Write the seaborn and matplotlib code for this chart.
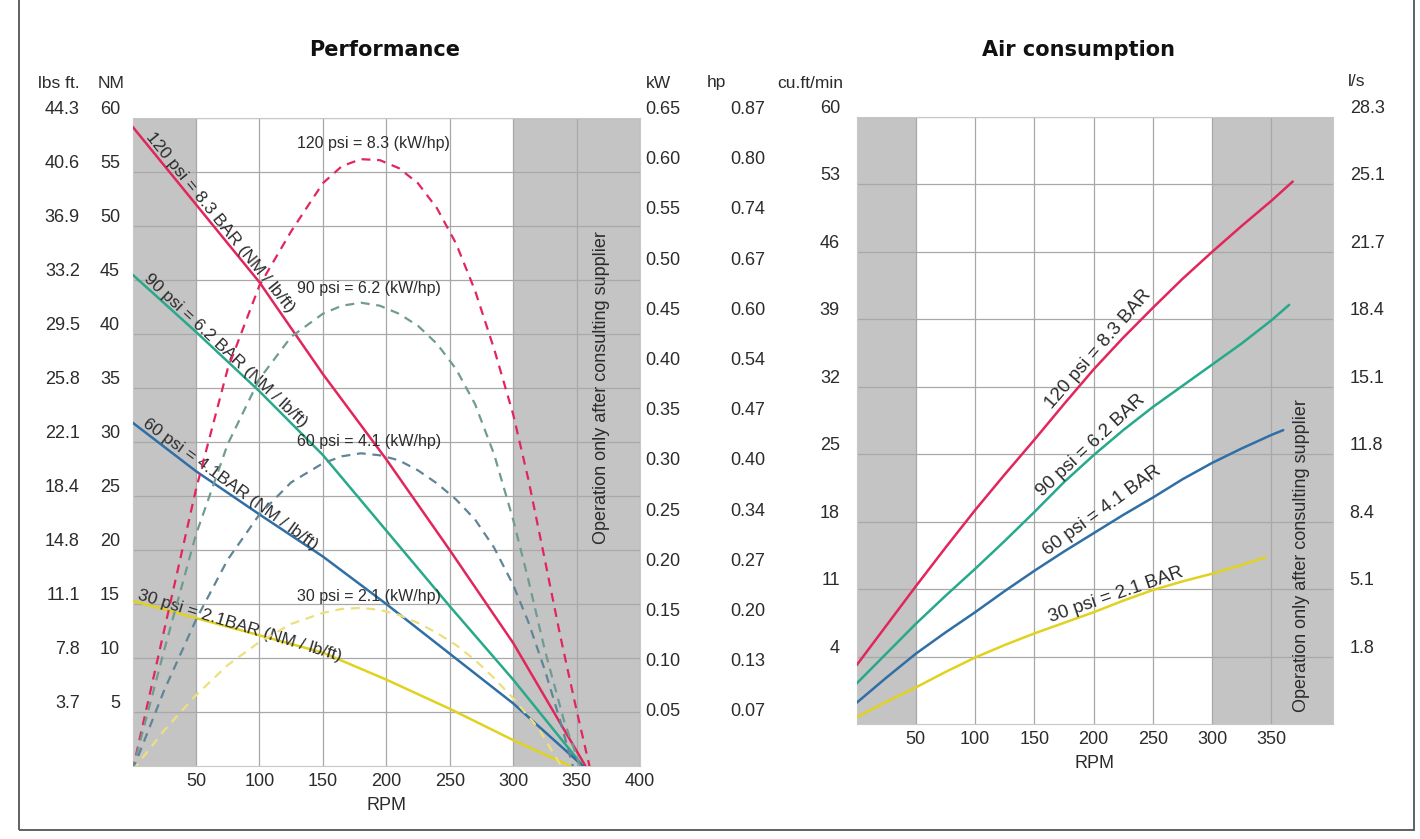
import numpy as np
import pandas as pd
import seaborn as sns
import matplotlib.pyplot as plt
from matplotlib.patches import Rectangle

sns.set_style("white")
plt.rcParams['font.family'] = ['Liberation Sans', 'DejaVu Sans']

# ---- Performance: torque (NM) against RPM, solid lines ----
tq_rpm_120 = [0, 50, 100, 150, 200, 250, 300, 357]
tq_120 = [59.2, 52.0, 44.8, 36.3, 28.4, 20.0, 11.4, 0.0]
tq_rpm_90 = [0, 50, 100, 150, 200, 250, 300, 355]
tq_90 = [45.5, 40.2, 34.7, 28.8, 21.8, 14.8, 8.0, 0.0]
tq_rpm_60 = [0, 50, 100, 150, 200, 250, 300, 355]
tq_60 = [31.8, 27.3, 23.3, 19.4, 15.0, 10.4, 5.8, 0.0]
tq_rpm_30 = [0, 50, 100, 150, 200, 250, 300, 345]
tq_30 = [15.3, 13.7, 12.1, 10.5, 8.0, 5.3, 2.4, 0.0]

# ---- Performance: power (kW) against RPM, dashed lines ----
pw_rpm_120 = [0, 25, 50, 75, 100, 125, 150, 165, 180, 195, 210, 225, 240, 255, 270, 285, 300, 312, 325, 337, 350, 361]
pw_120 = [0, 0.14, 0.28, 0.40, 0.483, 0.537, 0.585, 0.602, 0.609, 0.608, 0.600, 0.585, 0.560, 0.525, 0.478, 0.420, 0.355, 0.290, 0.210, 0.135, 0.060, 0]
pw_rpm_90 = [0, 25, 50, 75, 100, 125, 150, 165, 180, 195, 210, 225, 240, 255, 270, 285, 300, 312, 325, 340, 354]
pw_90 = [0, 0.12, 0.235, 0.325, 0.39, 0.432, 0.455, 0.463, 0.466, 0.463, 0.455, 0.443, 0.425, 0.40, 0.365, 0.315, 0.25, 0.19, 0.12, 0.05, 0]
pw_rpm_60 = [0, 25, 50, 75, 100, 125, 150, 165, 180, 195, 210, 225, 240, 255, 270, 285, 300, 312, 325, 337, 348]
pw_60 = [0, 0.08, 0.15, 0.21, 0.255, 0.287, 0.306, 0.313, 0.316, 0.314, 0.309, 0.299, 0.286, 0.27, 0.25, 0.222, 0.185, 0.148, 0.10, 0.05, 0]
pw_rpm_30 = [0, 25, 50, 75, 100, 125, 150, 165, 180, 195, 210, 225, 240, 255, 270, 285, 300, 320, 340]
pw_30 = [0, 0.04, 0.075, 0.105, 0.128, 0.146, 0.157, 0.161, 0.162, 0.16, 0.155, 0.147, 0.137, 0.125, 0.11, 0.092, 0.072, 0.042, 0]

# ---- Air consumption (cu.ft/min) against RPM ----
air_rpm_120 = [0, 25, 50, 75, 100, 125, 150, 175, 200, 225, 250, 275, 300, 325, 350, 368]
air_120 = [3.1, 7.2, 11.3, 15.3, 19.2, 22.9, 26.5, 30.2, 33.8, 37.1, 40.2, 43.2, 46.0, 48.7, 51.3, 53.3]
air_rpm_90 = [0, 25, 50, 75, 100, 125, 150, 175, 200, 225, 250, 275, 300, 325, 350, 365]
air_90 = [1.2, 4.3, 7.4, 10.3, 13.1, 16.0, 19.0, 22.1, 24.9, 27.5, 29.9, 32.1, 34.3, 36.5, 38.9, 40.5]
air_rpm_60 = [0, 25, 50, 75, 100, 125, 150, 175, 200, 225, 250, 275, 300, 325, 350, 360]
air_60 = [-0.8, 1.8, 4.3, 6.5, 8.6, 10.8, 12.9, 14.9, 16.8, 18.7, 20.5, 22.4, 24.1, 25.6, 27.0, 27.5]
air_rpm_30 = [0, 25, 50, 75, 100, 125, 150, 175, 200, 225, 250, 275, 300, 325, 345]
air_30 = [-2.3, -0.7, 0.8, 2.4, 3.9, 5.2, 6.4, 7.5, 8.6, 9.8, 10.9, 11.8, 12.6, 13.5, 14.3]

# ---- tick labels ----
nm_ticks = [5, 10, 15, 20, 25, 30, 35, 40, 45, 50, 55, 60]
lbs_labels = ['3.7', '7.8', '11.1', '14.8', '18.4', '22.1', '25.8', '29.5', '33.2', '36.9', '40.6', '44.3']
kw_ticks = [0.05, 0.10, 0.15, 0.20, 0.25, 0.30, 0.35, 0.40, 0.45, 0.50, 0.55, 0.60, 0.65]
hp_labels = ['0.07', '0.13', '0.20', '0.27', '0.34', '0.40', '0.47', '0.54', '0.60', '0.67', '0.74', '0.80', '0.87']
cfm_ticks = [4, 11, 18, 25, 32, 39, 46, 53, 60]
ls_labels = ['1.8', '5.1', '8.4', '11.8', '15.1', '18.4', '21.7', '25.1', '28.3']
rpm_ticks_perf = [50, 100, 150, 200, 250, 300, 350, 400]
rpm_ticks_air = [50, 100, 150, 200, 250, 300, 350]

c120, c90, c60, c30 = '#e2265c', '#27a98a', '#2f6fa6', '#e0d21e'
d120, d90, d60, d30 = '#e2265c', '#6f9c92', '#5f8596', '#ebe07c'
band = '#c4c4c4'
gridc = '#a8a8a8'
txt = '#2b2b2b'

W, H = 1420, 839
fig = plt.figure(figsize=(W / 100, H / 100), dpi=100)
fig.patch.set_facecolor('white')


def fx(px):
    return px / W


def fy(py):
    return 1 - py / H


ax = fig.add_axes([fx(132.5), fy(766), fx(640) - fx(132.5), fy(118) - fy(766)])
ax2 = fig.add_axes([fx(856.6), fy(724), fx(1333) - fx(856.6), fy(117) - fy(724)])

TICK = 13
LBL = 11.5
ROT_L = 12.5
ROT_R = 13.5
SIDE = 13

# ---------------- Performance ----------------
ax.set_xlim(0, 400)
ax.set_ylim(0, 60)
ax.axvspan(0, 50, color=band, zorder=0.2, lw=0)
ax.axvspan(300, 400, color=band, zorder=0.2, lw=0)
ax.set_axisbelow(True)
ax.grid(True, color=gridc, lw=0.9)
ax.set_xticks(rpm_ticks_perf)
ax.set_xticklabels([str(v) for v in rpm_ticks_perf])
ax.set_yticks(nm_ticks)
ax.set_yticklabels([str(v) for v in nm_ticks], va='bottom')
ax.tick_params(length=0, labelsize=TICK, labelcolor=txt)
ax.tick_params(axis='y', pad=9)
ax.tick_params(axis='x', pad=5)
ax.set_xlabel('RPM', fontsize=TICK, color=txt, labelpad=5)
for s in ax.spines.values():
    s.set_color('#c8c8c8')
    s.set_linewidth(0.8)

for xs, ys, c in [(tq_rpm_120, tq_120, c120), (tq_rpm_90, tq_90, c90),
                  (tq_rpm_60, tq_60, c60), (tq_rpm_30, tq_30, c30)]:
    sns.lineplot(x=xs, y=ys, ax=ax, color=c, lw=1.8, legend=False, zorder=3)

ax_lbs = ax.twinx()
ax_lbs.set_ylim(0, 60)
ax_lbs.yaxis.set_ticks_position('left')
ax_lbs.set_yticks(nm_ticks)
ax_lbs.set_yticklabels(lbs_labels, va='bottom')
ax_lbs.tick_params(axis='y', length=0, pad=38, labelsize=TICK, labelcolor=txt)

ax_kw = ax.twinx()
ax_kw.set_ylim(0.0045, 0.65)
ax_kw.set_yticks(kw_ticks)
ax_kw.set_yticklabels(['%.2f' % v for v in kw_ticks], va='bottom', ha='left')
ax_kw.tick_params(axis='y', length=0, pad=4, labelsize=TICK, labelcolor=txt)

for xs, ys, c in [(pw_rpm_120, pw_120, d120), (pw_rpm_90, pw_90, d90),
                  (pw_rpm_60, pw_60, d60), (pw_rpm_30, pw_30, d30)]:
    sns.lineplot(x=xs, y=ys, ax=ax_kw, color=c, lw=1.6, linestyle=(0, (4, 3)), legend=False)

ax_hp = ax.twinx()
ax_hp.set_ylim(0.0045, 0.65)
ax_hp.set_yticks(kw_ticks)
ax_hp.set_yticklabels(hp_labels, va='bottom', ha='left')
ax_hp.tick_params(axis='y', length=0, pad=65, labelsize=TICK, labelcolor=txt)

for a in (ax_lbs, ax_kw, ax_hp):
    for s in a.spines.values():
        s.set_visible(False)

for label, y in [('120 psi = 8.3 (kW/hp)', 57.6), ('90 psi = 6.2 (kW/hp)', 44.2),
                 ('60 psi = 4.1 (kW/hp)', 30.0), ('30 psi = 2.1 (kW/hp)', 15.7)]:
    ax.text(130, y, label, fontsize=LBL, color=txt, ha='left', va='center', zorder=5)

for label, xy, rot in [('120 psi = 8.3 BAR (NM / lb/ft)', (8, 58.1), -51),
                       ('90 psi = 6.2 BAR (NM / lb/ft)', (7, 44.8), -43),
                       ('60 psi = 4.1BAR (NM / lb/ft)', (6, 31.3), -36),
                       ('30 psi = 2.1BAR (NM / lb/ft)', (3, 15.2), -17)]:
    ax.text(xy[0], xy[1], label, fontsize=ROT_L, color=txt, rotation=rot,
            rotation_mode='anchor', ha='left', va='bottom', zorder=5)

ax.text(370, 35.0, 'Operation only after consulting supplier', rotation=90,
        fontsize=SIDE, color=txt, ha='center', va='center', zorder=5)

# ---------------- Air consumption ----------------
ax2.set_xlim(0, 402)
ax2.set_ylim(-3, 60)
ax2.axvspan(0, 50, color=band, zorder=0.2, lw=0)
ax2.axvspan(300, 402, color=band, zorder=0.2, lw=0)
ax2.set_axisbelow(True)
ax2.grid(True, color=gridc, lw=0.9)
ax2.set_xticks(rpm_ticks_air)
ax2.set_xticklabels([str(v) for v in rpm_ticks_air])
ax2.set_yticks(cfm_ticks)
ax2.set_yticklabels([str(v) for v in cfm_ticks], va='bottom')
ax2.tick_params(length=0, labelsize=TICK, labelcolor=txt)
ax2.tick_params(axis='y', pad=12)
ax2.tick_params(axis='x', pad=5)
ax2.set_xlabel('RPM', fontsize=TICK, color=txt, labelpad=5)
for s in ax2.spines.values():
    s.set_color('#c8c8c8')
    s.set_linewidth(0.8)

for xs, ys, c in [(air_rpm_120, air_120, c120), (air_rpm_90, air_90, c90),
                  (air_rpm_60, air_60, c60), (air_rpm_30, air_30, c30)]:
    sns.lineplot(x=xs, y=ys, ax=ax2, color=c, lw=1.8, legend=False, zorder=3)

ax2_ls = ax2.twinx()
ax2_ls.set_ylim(-3, 60)
ax2_ls.set_yticks(cfm_ticks)
ax2_ls.set_yticklabels(ls_labels, va='bottom', ha='left')
ax2_ls.tick_params(axis='y', length=0, pad=12, labelsize=TICK, labelcolor=txt)
for s in ax2_ls.spines.values():
    s.set_visible(False)

for label, xy, rot in [('120 psi = 8.3 BAR', (167, 29.4), 49),
                       ('90 psi = 6.2 BAR', (159, 20.3), 43),
                       ('60 psi = 4.1 BAR', (163, 14.1), 36),
                       ('30 psi = 2.1 BAR', (165, 7.2), 19)]:
    ax2.text(xy[0], xy[1], label, fontsize=ROT_R, color=txt, rotation=rot,
             rotation_mode='anchor', ha='left', va='bottom', zorder=5)

ax2.text(375.6, 14.5, 'Operation only after consulting supplier', rotation=90,
         fontsize=SIDE, color=txt, ha='center', va='center', zorder=5)

# ---------------- titles, unit headers, frame ----------------
fig.text(fx(385), fy(50), 'Performance', fontsize=15, fontweight='bold',
         family='DejaVu Sans', ha='center', va='center', color='#111111')
fig.text(fx(1079), fy(50), 'Air consumption', fontsize=15, fontweight='bold',
         family='DejaVu Sans', ha='center', va='center', color='#111111')

HDR = 12.5
fig.text(fx(80), fy(83), 'lbs ft.', fontsize=HDR, ha='right', va='center', color=txt)
fig.text(fx(125), fy(83), 'NM', fontsize=HDR, ha='right', va='center', color=txt)
fig.text(fx(646), fy(84), 'kW', fontsize=HDR, ha='left', va='center', color=txt)
fig.text(fx(707), fy(83), 'hp', fontsize=HDR, ha='left', va='center', color=txt)
fig.text(fx(843), fy(83), 'cu.ft/min', fontsize=HDR, ha='right', va='center', color=txt)
fig.text(fx(1348), fy(82), 'l/s', fontsize=HDR, ha='left', va='center', color=txt)

fig.add_artist(Rectangle((fx(19), fy(830)), fx(1414) - fx(19), 1.2, transform=fig.transFigure,
                         fill=False, ec='#555555', lw=1.3))

fig.savefig('out.png', dpi=100, facecolor='white')
